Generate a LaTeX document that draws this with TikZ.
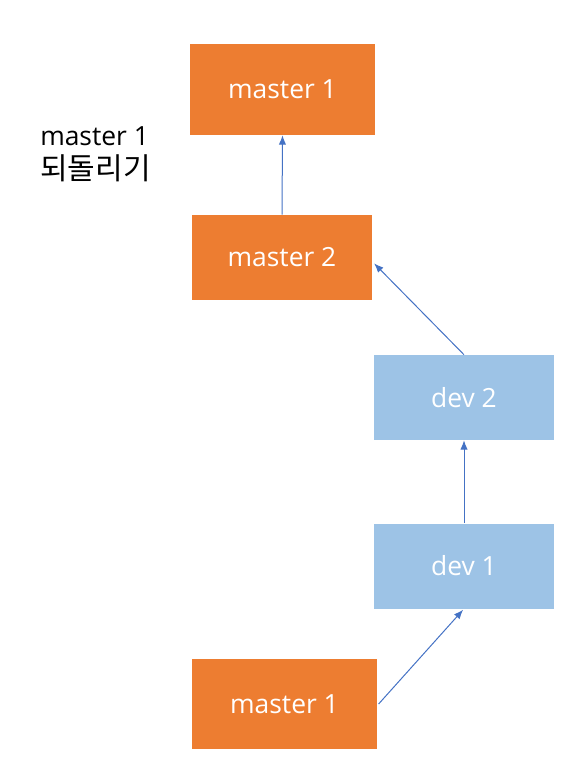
\documentclass[tikz,border=0pt]{standalone}
\usepackage{fontspec}
\setmainfont{Open Sans}
\newfontfamily\kr{Noto Sans CJK KR}
\usepackage{tikz}
\usetikzlibrary{arrows.meta}
\definecolor{mOrange}{HTML}{ED7D31}
\definecolor{dBlue}{HTML}{9DC3E6}
\definecolor{aBlue}{HTML}{4472C4}
\tikzset{>={Latex[length=7pt,width=5.5pt]}}
\tikzset{
  commit/.style={inner sep=0pt, text=white, font=\fontsize{19.8}{24}\selectfont},
  mbox/.style={commit, fill=mOrange},
  dbox/.style={commit, fill=dBlue, minimum width=135pt, minimum height=63.75pt},
  link/.style={->, draw=aBlue, line width=0.75pt}
}

\begin{document}
\begin{tikzpicture}[x=0.75pt, y=-0.75pt]
      \useasboundingbox (0,0) rectangle (573,760);
      % master branch
      \node[mbox, minimum width=138.75pt, minimum height=68.25pt] (mtop) at (282.5,89.5) {master 1};
      \node[mbox, minimum width=135pt, minimum height=63.75pt] (mtwo) at (282,257.5) {master 2};
      \node[mbox, minimum width=138.75pt, minimum height=67.5pt] (mbot) at (284.5,704) {master 1};
      % dev branch
      \node[dbox] (dtwo) at (464,397.5) {dev 2};
      \node[dbox] (done) at (464,566) {dev 1};
      % note
      \node[anchor=north west, align=left, inner sep=0pt,
            font=\fontsize{19.8}{25.5}\selectfont] (note) at (40,126) {master 1\\{\kr\fontsize{22.5}{25.5}\selectfont 되돌리기}};
      % history
      \draw[link] (mtwo.north) -- (mtop.south);
      \draw[link, shorten >=2pt] (dtwo.north) -- ([yshift=-3pt]mtwo.east);
      \draw[link] (done.north) -- (dtwo.south);
      \draw[link, shorten >=1pt] ([xshift=1pt]mbot.east) -- (done.south);
    \end{tikzpicture}
\end{document}
